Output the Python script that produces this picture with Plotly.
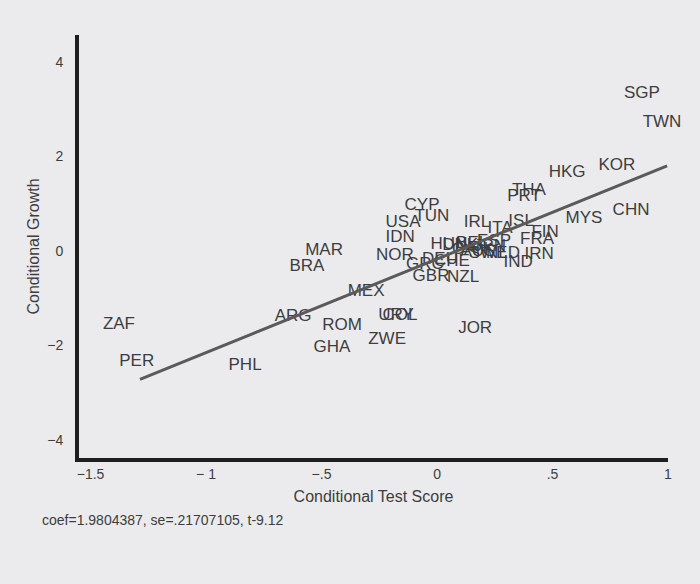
import plotly.graph_objects as go

countries = ["SGP", "TWN", "KOR", "HKG", "CHN", "MYS", "THA", "PRT", "ISL", "IRL",
             "ITA", "FIN", "FRA", "IRN", "IND", "CYP", "TUN", "USA", "IDN", "NOR",
             "GBR", "NZL", "MAR", "BRA", "MEX", "ARG", "ROM", "GHA", "ZWE", "COL",
             "URY", "JOR", "ZAF", "PER", "PHL",
             "HUN", "DNK", "BEL", "ESP", "CAN", "AUS", "JPN", "SWE", "NLD",
             "GRC", "DEU", "CHE"]
test_score = [0.887, 0.974, 0.779, 0.563, 0.840, 0.636, 0.398, 0.377, 0.364, 0.173,
              0.273, 0.468, 0.433, 0.442, 0.351, -0.065, -0.022, -0.147, -0.160, -0.182,
              -0.026, 0.113, -0.489, -0.563, -0.307, -0.623, -0.411, -0.455, -0.216, -0.160,
              -0.177, 0.165, -1.377, -1.300, -0.831,
              0.052, 0.100, 0.152, 0.247, 0.143, 0.177, 0.229, 0.221, 0.286,
              -0.052, 0.013, 0.065]
growth = [3.32, 2.71, 1.80, 1.65, 0.85, 0.68, 1.27, 1.14, 0.61, 0.59,
          0.47, 0.38, 0.23, -0.08, -0.25, 0.95, 0.72, 0.59, 0.28, -0.11,
          -0.55, -0.57, 0.00, -0.34, -0.87, -1.40, -1.59, -2.05, -1.88, -1.38,
          -1.38, -1.65, -1.57, -2.35, -2.43,
          0.13, 0.11, 0.15, 0.19, 0.02, -0.02, 0.08, -0.06, -0.06,
          -0.30, -0.19, -0.23]

coef = 1.9804387
intercept = -0.17
fit_x = [-1.286, 0.996]
note = "coef=1.9804387, se=.21707105, t-9.12"

x_tickvals = [-1.5, -1, -0.5, 0, 0.5, 1]
x_ticktext = ["\u22121.5", "\u2212 1", "\u2212.5", "0", ".5", "1"]
y_tickvals = [-4, -2, 0, 2, 4]
y_ticktext = ["\u22124", "\u22122", "0", "2", "4"]

bg = "#EBEBED"
font_family = "Liberation Sans, Arial, sans-serif"
txt = "#3d3d3d"

fit_y = [intercept + coef * v for v in fit_x]

fig = go.Figure()
fig.add_trace(go.Scatter(
    x=test_score, y=growth, mode="text", text=countries,
    textposition="middle center", cliponaxis=False,
    textfont=dict(family=font_family, size=17, color=txt),
    hoverinfo="text", showlegend=False,
))
fig.add_trace(go.Scatter(
    x=fit_x, y=fit_y, mode="lines",
    line=dict(color="#5a5a5a", width=3),
    showlegend=False, hoverinfo="skip",
))

fig.update_layout(
    width=700, height=584,
    paper_bgcolor=bg, plot_bgcolor=bg,
    margin=dict(l=79, r=32, t=35, b=126),
    font=dict(family=font_family, color=txt),
    xaxis=dict(
        range=[-1.55, 1.0], showgrid=False, zeroline=False,
        showline=True, linecolor="#1e1e1e", linewidth=4,
        tickvals=x_tickvals, ticktext=x_ticktext,
        tickfont=dict(size=14, color=txt),
        ticks="", ticklabelstandoff=0,
        title=dict(text="Conditional Test Score", font=dict(size=16, color=txt), standoff=11),
    ),
    yaxis=dict(
        range=[-4.38, 4.57], showgrid=False, zeroline=False,
        showline=True, linecolor="#1e1e1e", linewidth=4,
        tickvals=y_tickvals, ticktext=y_ticktext,
        tickfont=dict(size=14, color=txt),
        ticks="", ticklabelstandoff=9,
        title=dict(text="Conditional Growth", font=dict(size=16, color=txt), standoff=5),
    ),
    annotations=[dict(
        text=note, xref="paper", yref="paper",
        x=(40 - 79) / 589, y=(458 - 520) / 423,
        xanchor="left", yanchor="middle", showarrow=False,
        font=dict(size=14, color=txt, family=font_family),
    )],
)

fig.write_html(
    "out.html",
    config={"displayModeBar": False},
    post_script="document.body.style.margin='0';document.body.style.background='#EBEBED';",
)
